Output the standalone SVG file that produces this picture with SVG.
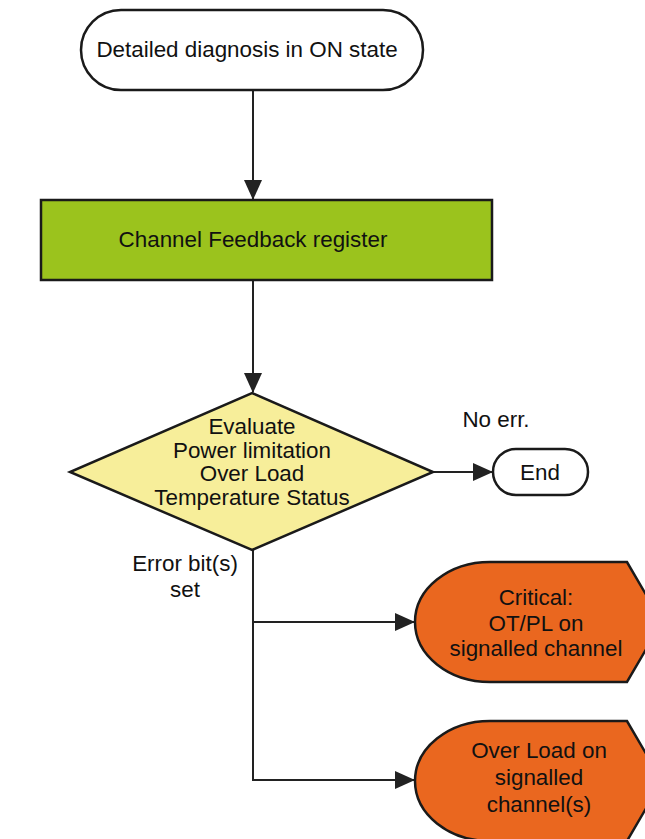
<svg xmlns="http://www.w3.org/2000/svg" width="645" height="839" viewBox="0 0 645 839">
<defs>
<marker id="arr" markerWidth="20" markerHeight="20" refX="19" refY="10" orient="auto" markerUnits="userSpaceOnUse"><path d="M0,1 L20,10 L0,19 Z" fill="#222"/></marker>
<style>
text{font-family:"Liberation Sans",Arial,sans-serif;font-size:22.4px;fill:#111;text-anchor:middle}
.n{stroke:#1a1a1a;stroke-width:2.5}
.c{fill:none;stroke:#222;stroke-width:2}
</style>
</defs>
<rect width="645" height="839" fill="#fff"/>
<g id="connectors">
<path class="c" d="M253,90 V199" marker-end="url(#arr)"/>
<path class="c" d="M253,280 V392" marker-end="url(#arr)"/>
<path class="c" d="M433,472 H492" marker-end="url(#arr)"/>
<path class="c" d="M253,550 V780 H414"/>
<path class="c" d="M253,622 H414" marker-end="url(#arr)"/>
<path class="c" d="M330,780 H414" marker-end="url(#arr)"/>
</g>
<g id="start">
<rect class="n" x="81" y="10" width="342" height="80" rx="40" fill="#fff"/>
<text x="247" y="57">Detailed diagnosis in ON state</text>
</g>
<g id="register">
<rect class="n" x="41" y="200" width="451" height="80" fill="#9bc31d"/>
<text x="253" y="247">Channel Feedback register</text>
</g>
<g id="evaluate">
<polygon class="n" points="252,393 433,472 252,550 70,472" fill="#f7ee9a"/>
<text x="252" y="434">Evaluate</text>
<text x="252" y="458">Power limitation</text>
<text x="252" y="481">Over Load</text>
<text x="252" y="505">Temperature Status</text>
</g>
<g id="labels">
<text x="496" y="427">No err.</text>
<text x="185" y="571">Error bit(s)</text>
<text x="185" y="597">set</text>
</g>
<g id="end">
<rect class="n" x="493" y="449" width="95" height="46" rx="23" fill="#fff"/>
<text x="540" y="480">End</text>
</g>
<g id="critical">
<path class="n" d="M490,562 H627 L662,622 L627,682 H490 A75,60 0 0 1 415,622 A75,60 0 0 1 490,562 Z" fill="#ea671f"/>
<text x="536" y="605">Critical:</text>
<text x="536" y="631">OT/PL on</text>
<text x="536" y="656">signalled channel</text>
</g>
<g id="overload">
<path class="n" d="M490,721 H627 L662,781 L627,841 H490 A75,60 0 0 1 415,781 A75,60 0 0 1 490,721 Z" fill="#ea671f"/>
<text x="539" y="758">Over Load on</text>
<text x="539" y="785">signalled</text>
<text x="539" y="812">channel(s)</text>
</g>
</svg>
